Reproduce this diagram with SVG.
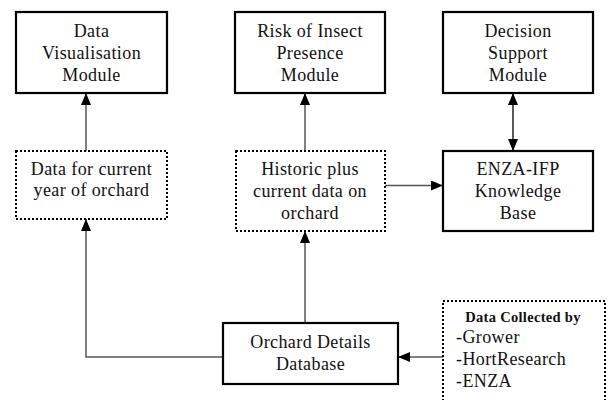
<svg xmlns="http://www.w3.org/2000/svg" width="608" height="400" viewBox="0 0 608 400">
<style>
.box{fill:#fff;stroke:#000;stroke-width:2.2}
.dot{fill:#fff;stroke:#000;stroke-width:2;stroke-dasharray:2 2}
.t{font-family:'Liberation Serif','Times New Roman',serif;font-size:18px;letter-spacing:0.4px;fill:#111;text-anchor:middle}
.tl{font-family:'Liberation Serif','Times New Roman',serif;font-size:18px;letter-spacing:0.4px;fill:#111}
.tb{font-family:'Liberation Serif','Times New Roman',serif;font-size:14.5px;letter-spacing:0.3px;font-weight:bold;fill:#111;text-anchor:middle}
.c{fill:none;stroke:#555;stroke-width:1.5}
.cb{fill:none;stroke:#000;stroke-width:1.3}
</style>
<defs>
<marker id="ah" viewBox="0 0 12 10" refX="12" refY="5" markerWidth="12" markerHeight="10" markerUnits="userSpaceOnUse" orient="auto-start-reverse">
<path d="M0,0 L12,5 L0,10 Z" fill="#000"/>
</marker>
</defs>
<rect width="608" height="400" fill="#fff"/>
<g id="connectors">
<path class="c" d="M86,151 V93" marker-end="url(#ah)"/>
<path class="c" d="M305,151 V93" marker-end="url(#ah)"/>
<path class="cb" d="M513,93 V151" marker-start="url(#ah)" marker-end="url(#ah)"/>
<path class="c" d="M385,185.5 H443" marker-end="url(#ah)"/>
<path class="c" d="M305,323 V231" marker-end="url(#ah)"/>
<path class="c" d="M223,357 H86 V219" marker-end="url(#ah)"/>
<path class="c" d="M443,357 H398" marker-end="url(#ah)"/>
</g>
<g id="dataVis">
<rect class="box" x="16" y="12" width="151" height="81"/>
<text class="t" x="91.5" y="37">Data</text>
<text class="t" x="91.5" y="59">Visualisation</text>
<text class="t" x="91.5" y="81">Module</text>
</g>
<g id="riskInsect">
<rect class="box" x="235" y="12" width="150" height="81"/>
<text class="t" x="310" y="37">Risk of Insect</text>
<text class="t" x="310" y="59">Presence</text>
<text class="t" x="310" y="81">Module</text>
</g>
<g id="decisionSupport">
<rect class="box" x="443" y="12" width="150" height="81"/>
<text class="t" x="518" y="37">Decision</text>
<text class="t" x="518" y="59">Support</text>
<text class="t" x="518" y="81">Module</text>
</g>
<g id="currentYear">
<rect class="dot" x="16" y="151" width="151" height="68"/>
<text class="t" x="91.5" y="175">Data for current</text>
<text class="t" x="91.5" y="196">year of orchard</text>
</g>
<g id="historic">
<rect class="dot" x="236" y="151" width="149" height="80"/>
<text class="t" x="310" y="175">Historic plus</text>
<text class="t" x="310" y="197">current data on</text>
<text class="t" x="310" y="219">orchard</text>
</g>
<g id="knowledgeBase">
<rect class="box" x="443" y="151" width="150" height="80"/>
<text class="t" x="518" y="175">ENZA-IFP</text>
<text class="t" x="518" y="197">Knowledge</text>
<text class="t" x="518" y="219">Base</text>
</g>
<g id="orchardDb">
<rect class="box" x="223" y="323" width="175" height="61"/>
<text class="t" x="310.5" y="348">Orchard Details</text>
<text class="t" x="310.5" y="370">Database</text>
</g>
<g id="dataCollected">
<path class="dot" d="M443,405 V301 H605 V405"/>
<text class="tb" x="523" y="322">Data Collected by</text>
<text class="tl" x="456" y="343">-Grower</text>
<text class="tl" x="456" y="365">-HortResearch</text>
<text class="tl" x="456" y="387">-ENZA</text>
</g>
</svg>
